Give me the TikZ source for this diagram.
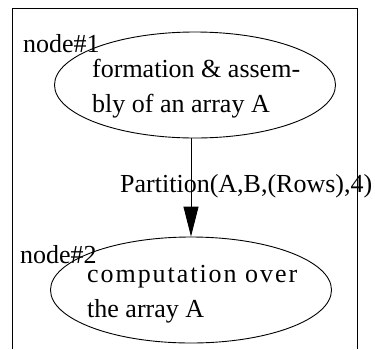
\documentclass[tikz,border=0pt]{standalone}
\usepackage{fontspec}
\setmainfont{Liberation Serif}
\usetikzlibrary{shapes.geometric,arrows.meta}
\begin{document}
\begin{tikzpicture}[x=1pt,y=-1pt,
  font=\fontsize{26}{35}\selectfont,
  task/.style={draw,line width=0.9pt,ellipse,inner sep=0pt,
    minimum width=281pt,minimum height=106pt},
  txt/.style={inner sep=0pt,anchor=base west},
  flow/.style={line width=0.9pt,-{Triangle[length=30pt,width=15pt]}},
  frame/.style={line width=0.9pt}]
\useasboundingbox (0,0) rectangle (375,349);
% enclosing frame, open at the bottom
\coordinate (fbl) at (12,349);
\coordinate (ftl) at (12,8);
\coordinate (ftr) at (357,8);
\coordinate (fbr) at (357,349);
\draw[frame] (fbl) -- (ftl) -- (ftr) -- (fbr);
% the two tasks
\node[task] (e1) at (195,85) {};
\node[task] (e2) at (191,290) {};
\node[txt] (t1a) at (92,77) {formation \& assem-};
\node[txt] (t1b) at (92,112) {bly of an array A};
\node[txt] (t2a) at (87,282) {\addfontfeature{LetterSpace=7.5}computation over};
\node[txt] (t2b) at (87,317) {the array A};
% node labels
\node[txt] (l1) at (23,52) {node\#1};
\node[txt] (l2) at (20,263) {node\#2};
% partition edge
\draw[flow] (e1.south -| e2.north) -- (e2.north);
\node[txt] (p) at (120,192) {Partition(A,B,(Rows),4)};
\end{tikzpicture}
\end{document}
